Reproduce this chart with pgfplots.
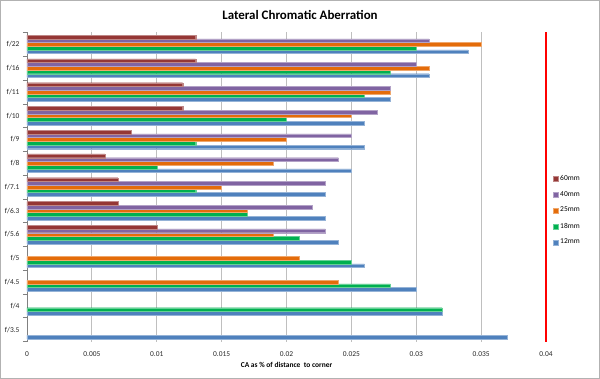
\documentclass[border=0pt]{standalone}
\usepackage{pgfplots}
\pgfplotsset{compat=1.18}
\usepackage{fontspec}
\setmainfont{Carlito}
\definecolor{c12}{HTML}{4F81BD}
\definecolor{c18}{HTML}{00B050}
\definecolor{c25}{HTML}{E46C0A}
\definecolor{c40}{HTML}{8064A2}
\definecolor{c60}{HTML}{953735}
\definecolor{gridgray}{HTML}{BFBFBF}
\begin{document}
\begin{tikzpicture}
\useasboundingbox (0,0) rectangle (600bp,379bp);
\draw[gray!60, line width=1bp] (0.5bp,0.5bp) rectangle (599.5bp,378.5bp);
\node[font=\fontsize{13}{15}\selectfont\bfseries] at (300bp,364bp) {Lateral Chromatic Aberration};
\begin{axis}[
  at={(27bp,37.5bp)}, anchor=south west,
  scale only axis, width=519bp, height=309bp,
  xbar=0pt, bar width=3.7bp,
  xmin=0, xmax=0.04, ymin=-0.5, ymax=12.5,
  xtick={0,0.005,...,0.0401},
  scaled x ticks=false,
  xticklabel style={/pgf/number format/fixed, /pgf/number format/precision=3},
  /pgf/number format/assume math mode=true,
  xmajorgrids, major grid style={gridgray, line width=0.8bp},
  ytick={-0.5,0.5,...,12.5},
  y tick label as interval,
  yticklabels={f/3.5,f/4,f/4.5,f/5,f/5.6,f/6.3,f/7.1,f/8,f/9,f/10,f/11,f/16,f/22},
  ytick style={gray, line width=0.6bp},
  tick align=outside, major tick length=4bp,
  xtick style={draw=none},
  axis y line*=left, axis x line*=bottom,
  x axis line style={draw=none},
  y axis line style={gray, line width=0.8bp},
  tick label style={font=\fontsize{7.5}{9}\selectfont, text=black!85},
  xticklabel shift=3bp,
  xlabel={CA as \% of distance\ \ to corner},
  xlabel style={font=\fontsize{7.5}{9}\selectfont\bfseries, yshift=2bp},
  clip=false,
  reverse legend,
  legend style={at={(1.013,0.545)}, anchor=north west, draw=none, fill=none,
    font=\fontsize{7.5}{9}\selectfont, row sep=5.5bp, inner sep=0pt},
  legend cell align=left,
  legend image code/.code={\fill[#1] (0bp,-2.5bp) rectangle (5bp,2.5bp);},
]
\addplot[fill=c12, draw=c12!60!white, line width=0.3bp] coordinates {
 (0.037,0) (0.032,1) (0.030,2) (0.026,3) (0.024,4) (0.023,5) (0.023,6)
 (0.025,7) (0.026,8) (0.026,9) (0.028,10) (0.031,11) (0.034,12)};
\addplot[fill=c18, draw=c18!60!white, line width=0.3bp] coordinates {
 (0.032,1) (0.028,2) (0.025,3) (0.021,4) (0.017,5) (0.013,6)
 (0.010,7) (0.013,8) (0.020,9) (0.026,10) (0.028,11) (0.030,12)};
\addplot[fill=c25, draw=c25!60!white, line width=0.3bp] coordinates {
 (0.024,2) (0.021,3) (0.019,4) (0.017,5) (0.015,6)
 (0.019,7) (0.020,8) (0.025,9) (0.028,10) (0.031,11) (0.035,12)};
\addplot[fill=c40, draw=c40!60!white, line width=0.3bp] coordinates {
 (0.023,4) (0.022,5) (0.023,6) (0.024,7) (0.025,8) (0.027,9) (0.028,10) (0.030,11) (0.031,12)};
\addplot[fill=c60, draw=c60!60!white, line width=0.3bp] coordinates {
 (0.010,4) (0.007,5) (0.007,6) (0.006,7) (0.008,8) (0.012,9) (0.012,10) (0.013,11) (0.013,12)};
\legend{12mm,18mm,25mm,40mm,60mm}
\end{axis}
\begin{axis}[
  at={(27bp,37.5bp)}, anchor=south west,
  scale only axis, width=519bp, height=309bp,
  xmin=0, xmax=0.04, ymin=-0.5, ymax=12.5,
  hide axis, clip=false]
\addplot[red, line width=1.6bp] coordinates {(0.04,-0.5) (0.04,12.5)};
\end{axis}
\end{tikzpicture}
\end{document}
